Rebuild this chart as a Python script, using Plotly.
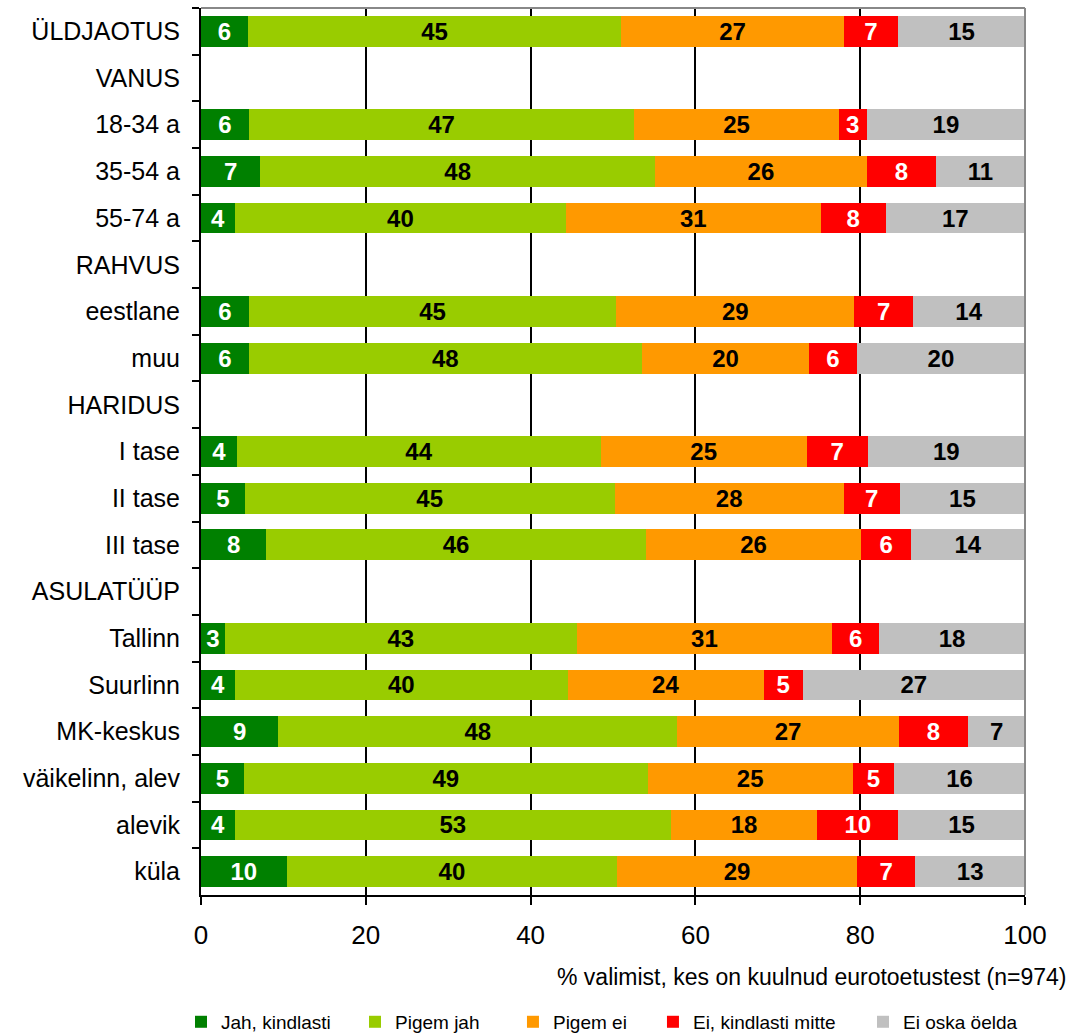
import plotly.graph_objects as go

categories = ["ÜLDJAOTUS", "VANUS", "18-34 a", "35-54 a", "55-74 a", "RAHVUS",
              "eestlane", "muu", "HARIDUS", "I tase", "II tase", "III tase",
              "ASULATÜÜP", "Tallinn", "Suurlinn", "MK-keskus", "väikelinn, alev",
              "alevik", "küla"]

jah_kindlasti = [5.7, None, 5.8, 7.2, 4.1, None, 5.8, 5.8, None, 4.4, 5.3, 7.9,
                 None, 2.9, 4.1, 9.4, 5.2, 4.1, 10.4]
pigem_jah = [45.3, None, 46.8, 47.9, 40.2, None, 44.6, 47.7, None, 44.1, 44.9, 46.1,
             None, 42.7, 40.4, 48.4, 49.0, 52.9, 40.1]
pigem_ei = [27.0, None, 24.8, 25.7, 30.9, None, 28.9, 20.3, None, 25.0, 27.8, 26.1,
            None, 31.0, 23.8, 26.9, 24.9, 17.8, 29.1]
ei_kindlasti = [6.6, None, 3.4, 8.4, 7.9, None, 7.1, 5.8, None, 7.4, 6.8, 6.1,
                None, 5.7, 4.7, 8.4, 5.0, 9.8, 7.1]
ei_oska = [15.4, None, 19.2, 10.8, 16.9, None, 13.6, 20.4, None, 19.1, 15.2, 13.8,
           None, 17.7, 27.0, 6.9, 15.9, 15.4, 13.3]

series_names = ["Jah, kindlasti", "Pigem jah", "Pigem ei", "Ei, kindlasti mitte", "Ei oska öelda"]
series_values = [jah_kindlasti, pigem_jah, pigem_ei, ei_kindlasti, ei_oska]
series_colors = ["#008000", "#99CC00", "#FF9900", "#FF0000", "#C0C0C0"]
text_colors = ["white", "black", "black", "white", "black"]

x_ticks = [0, 20, 40, 60, 80, 100]
x_title = "% valimist, kes on kuulnud eurotoetustest (n=974)"

FONT = "Arial, Liberation Sans, sans-serif"
legend_x = [-0.0243, 0.1869, 0.3786, 0.5485, 0.8034]
legend_ids = ["legend", "legend2", "legend3", "legend4", "legend5"]

fig = go.Figure()
for i, (name, vals, color, tcolor) in enumerate(zip(series_names, series_values,
                                                     series_colors, text_colors)):
    fig.add_trace(go.Bar(
        y=categories, x=vals, name=name, orientation="h",
        marker=dict(color=color, line=dict(width=0)),
        width=0.66,
        texttemplate="%{x:.0f}", textposition="inside",
        insidetextanchor="middle", textangle=0,
        constraintext="none",
        textfont=dict(family=FONT, size=24, color=tcolor, weight="bold"),
        legend=legend_ids[i],
    ))

legend_layout = {}
for lid, lx in zip(legend_ids, legend_x):
    legend_layout[lid] = dict(orientation="h", x=lx, xanchor="left",
                              y=-0.1431, yanchor="middle",
                              font=dict(size=19), itemwidth=30,
                              bgcolor="rgba(0,0,0,0)")

fig.update_layout(
    width=1071, height=1034,
    barmode="stack",
    plot_bgcolor="white", paper_bgcolor="white",
    margin=dict(l=201, r=46, t=8, b=139, autoexpand=False),
    font=dict(family=FONT, color="black"),
    showlegend=True,
    xaxis=dict(range=[0, 100], tickvals=x_ticks, showgrid=True, gridcolor="black",
               gridwidth=1.5, zeroline=False, showline=True, linecolor="black",
               linewidth=2, ticks="outside", ticklen=8, tickcolor="black",
               tickwidth=1.5, tickfont=dict(size=26), ticklabelstandoff=8,
               automargin=False),
    yaxis=dict(categoryorder="array", categoryarray=categories, autorange="reversed",
               tickson="boundaries", ticks="outside", ticklen=7, tickcolor="black",
               tickwidth=1.5, showline=True, linecolor="black", linewidth=2,
               showgrid=False, tickfont=dict(size=25), ticklabelstandoff=14,
               automargin=False),
    annotations=[dict(text=x_title, xref="paper", yref="paper", x=1, y=0,
                      xanchor="right", yanchor="middle", xshift=43, yshift=-82,
                      showarrow=False, font=dict(size=23))],
    shapes=[
        dict(type="line", xref="paper", yref="paper", x0=0, x1=1, y0=1, y1=1,
             line=dict(color="#888888", width=2), layer="above"),
        dict(type="line", xref="paper", yref="paper", x0=1, x1=1, y0=0, y1=1,
             line=dict(color="#888888", width=2), layer="above"),
    ],
    **legend_layout,
)

fig.write_html("out.html", config={"displayModeBar": False},
               post_script="document.body.style.margin='0';")
